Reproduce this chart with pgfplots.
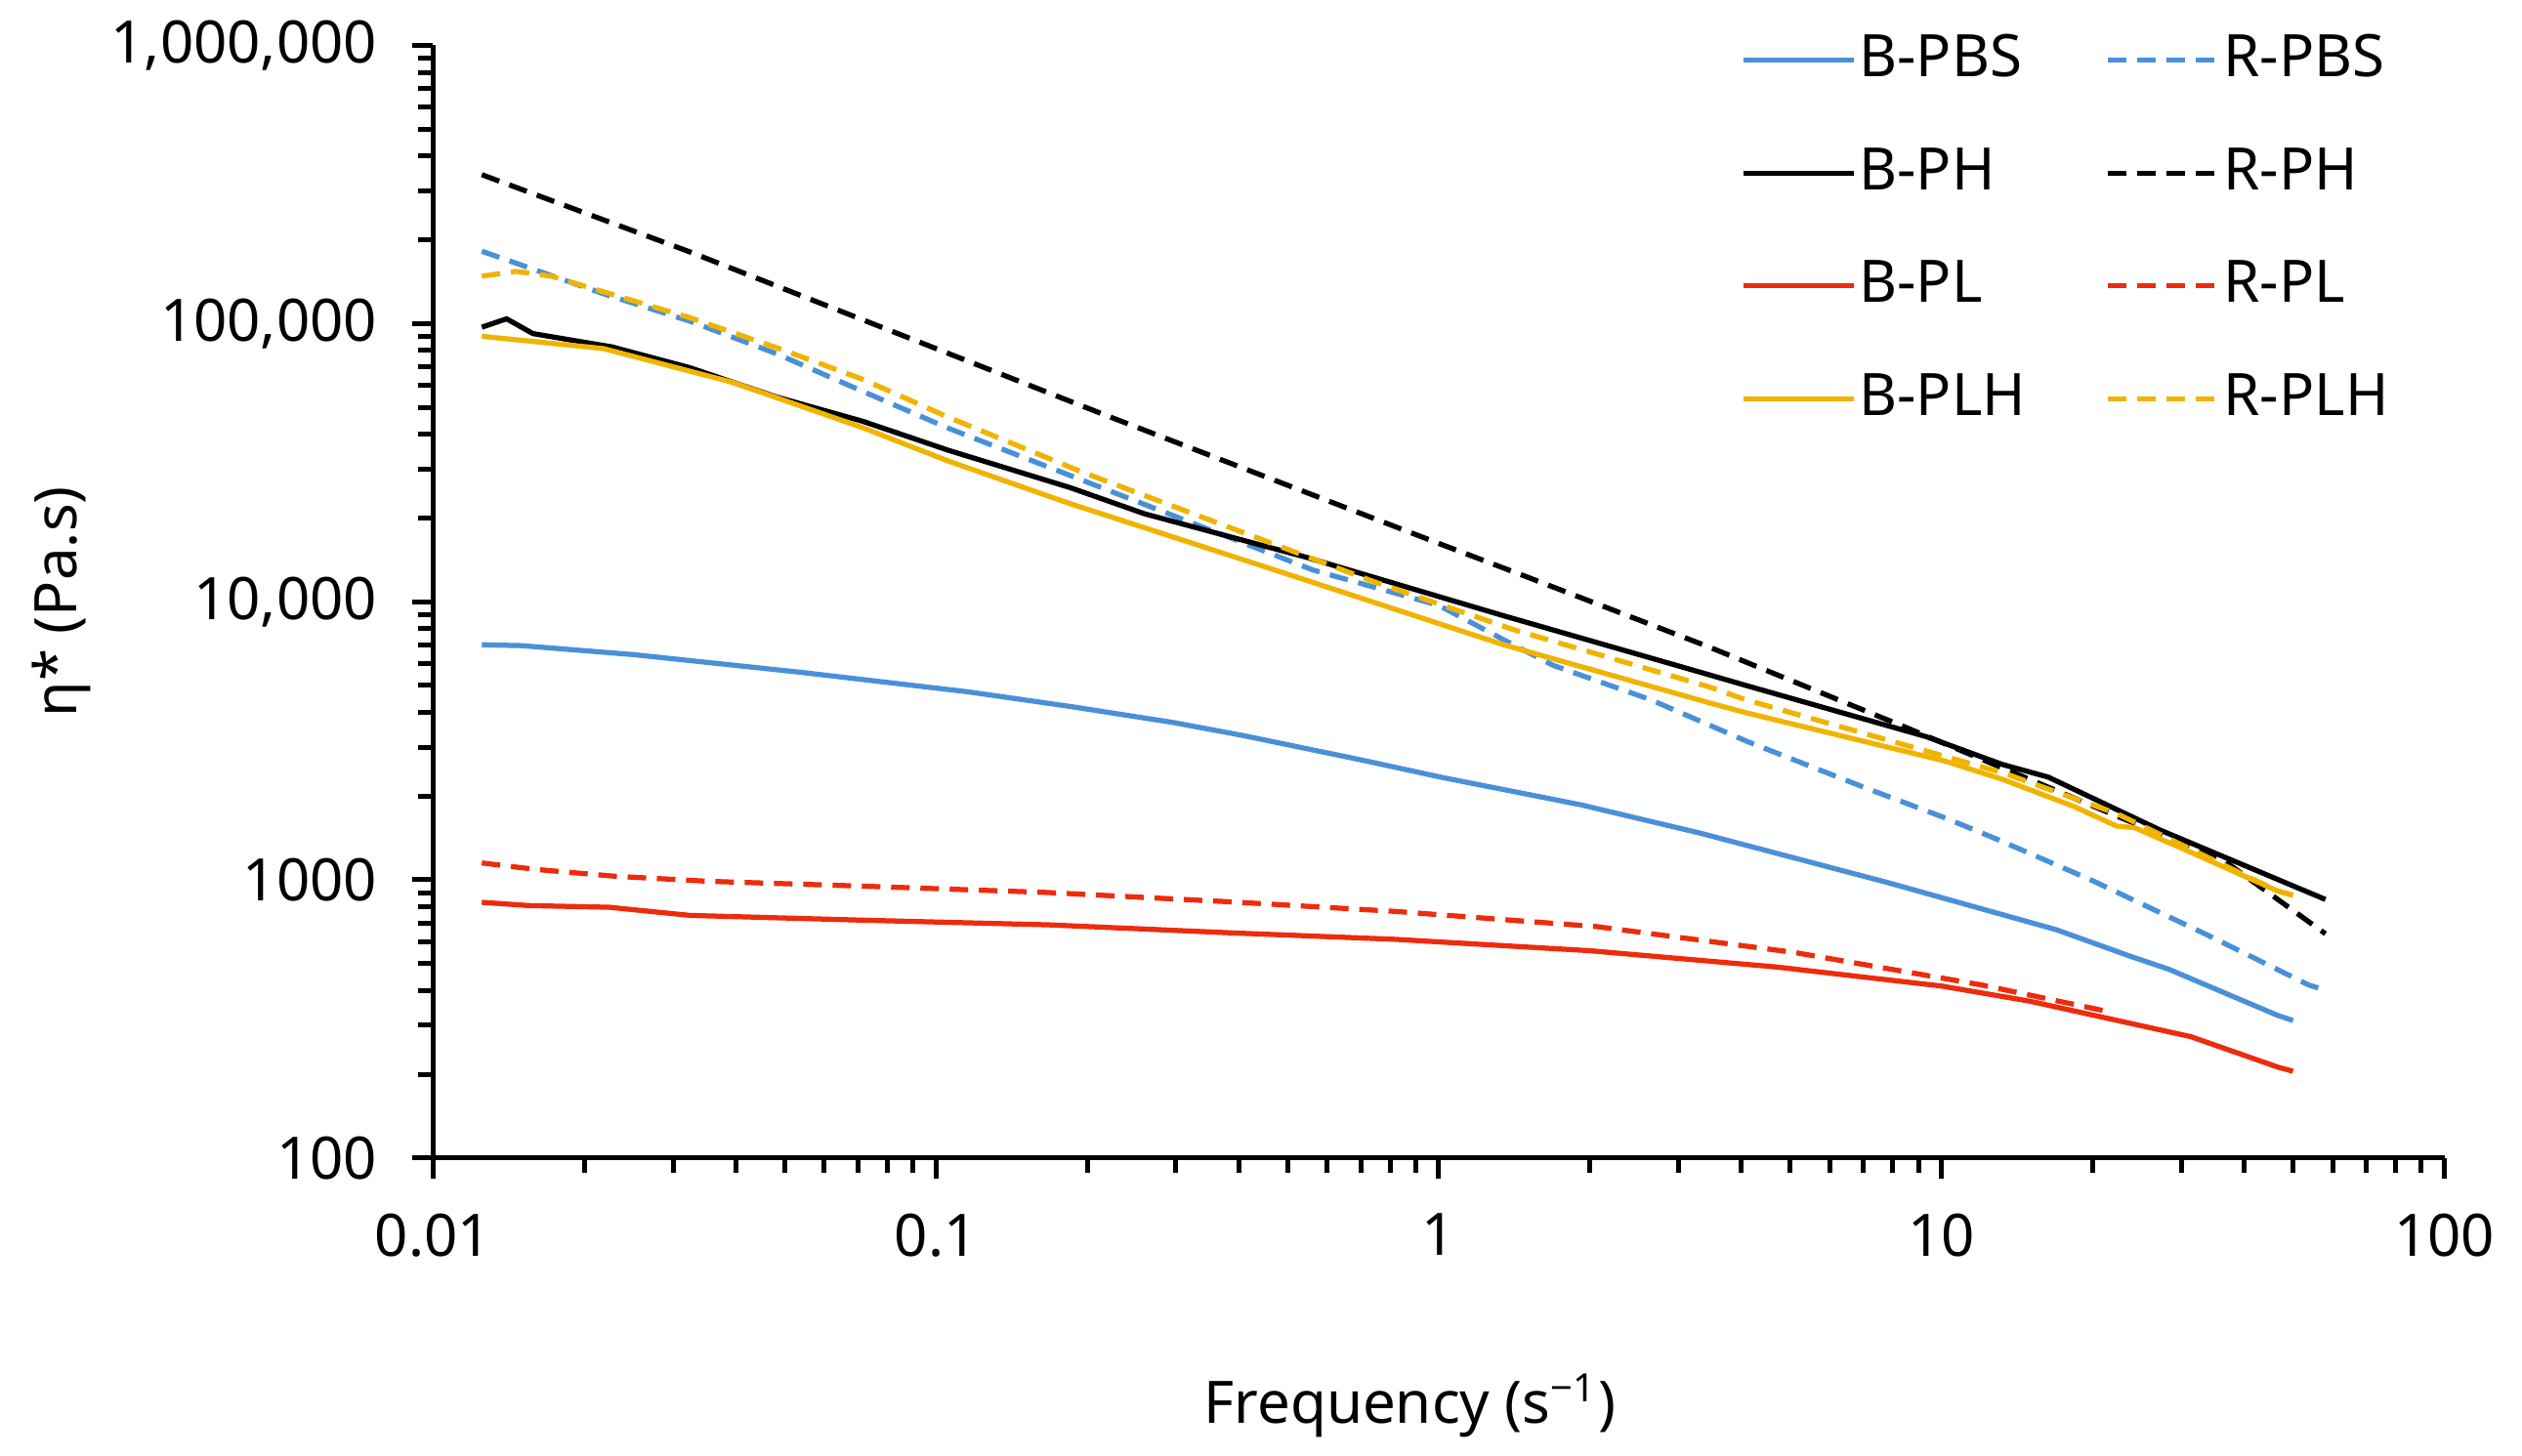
\documentclass[border=0pt]{standalone}
\usepackage{fontspec}
\setmainfont{Noto Sans}
\usepackage{pgfplots}
\pgfplotsset{compat=1.18}
\definecolor{cblue}{HTML}{4A90D9}
\definecolor{cred}{HTML}{EE2B0C}
\definecolor{cyel}{HTML}{F0B400}

\pgfplotstableread{
x y
0.0125 7000
0.015 6950
0.0251 6450
0.054 5570
0.116 4740
0.185 4200
0.296 3680
0.409 3300
0.70 2700
1.02 2330
1.92 1860
3.32 1470
7.82 977
16.9 662
23.6 533
28.3 477
46.7 325
50 312
}\BPBS

\pgfplotstableread{
x y
0.0125 182000
0.0218 128000
0.0324 102000
0.0481 78000
0.0716 57000
0.106 42000
0.217 25400
0.562 13000
1.0 9700
1.346 7300
1.69 5900
2.64 4440
4.13 3130
7.06 2140
10.25 1660
13 1390
19.8 1000
34 630
53.7 419
57 405
}\RPBS

\pgfplotstableread{
x y
0.0125 97000
0.0140 104000
0.0158 92000
0.0227 82400
0.0324 69400
0.0481 54500
0.0716 44500
0.106 35000
0.185 25700
0.26 20700
0.541 14500
1.346 8900
3.32 5570
4.08 5000
9.33 3270
13.2 2600
16.3 2340
27.2 1510
58 850
}\BPH

\pgfplotstableread{
x y
0.0125 343000
0.0324 181000
0.217 46900
1.0 16200
1.476 12400
3.43 6900
8.63 3490
22.4 1690
36 1190
58 640
}\RPH

\pgfplotstableread{
x y
0.0125 830
0.0155 808
0.0224 797
0.0324 745
0.0716 716
0.1675 689
0.392 644
0.82 611
2.0 556
4.69 486
10 415
15 366
31.3 273
46.7 212
50 205
}\BPL

\pgfplotstableread{
x y
0.0125 1150
0.016 1090
0.023 1030
0.0352 988
0.0716 949
0.1675 900
0.392 832
0.82 770
2.06 679
5.1 548
12 419
21.1 338
}\RPL

\pgfplotstableread{
x y
0.0125 90000
0.0218 81300
0.0395 61400
0.0716 42200
0.106 32000
0.185 22500
0.217 20500
0.541 12000
1.346 7000
3.45 4330
4.08 3990
10.1 2680
13.2 2300
18.4 1830
22.3 1560
24.2 1540
30 1300
46.6 912
50 880
}\BPLH

\pgfplotstableread{
x y
0.0125 148000
0.0146 154000
0.0172 148000
0.0324 105000
0.0481 82000
0.0716 63000
0.106 46000
0.193 29500
0.743 11800
1.41 7930
3.45 4940
4.08 4440
13.3 2420
22.3 1730
46.6 912
50 880
}\RPLH

\begin{document}
\fontsize{12pt}{14pt}\selectfont
\begin{tikzpicture}
\begin{axis}[
  scale only axis, width=411.9pt, height=227.9pt,
  xmode=log, ymode=log,
  xmin=0.01, xmax=100, ymin=100, ymax=1000000,
  axis x line=bottom, axis y line=left,
  axis line style={line width=1pt, -},
  xtick={0.01,0.1,1,10,100}, xticklabels={0.01,0.1,1,10,100},
  ytick={100,1000,10000,100000,1000000},
  yticklabels={100,1000,{10,000},{100,000},{1,000,000}},
  minor xtick={0.02,0.03,0.04,0.05,0.06,0.07,0.08,0.09,0.2,0.3,0.4,0.5,0.6,0.7,0.8,0.9,2,3,4,5,6,7,8,9,20,30,40,50,60,70,80,90},
  minor ytick={200,300,400,500,600,700,800,900,2000,3000,4000,5000,6000,7000,8000,9000,20000,30000,40000,50000,60000,70000,80000,90000,200000,300000,400000,500000,600000,700000,800000,900000},
  tick align=outside, major tick length=4.2pt, minor tick length=3pt,
  every tick/.style={line width=1pt, black},
  every minor tick/.style={line width=1pt, black},
  xticklabel style={inner sep=0pt, anchor=north, yshift=-7pt, font=\fontsize{12pt}{14pt}\selectfont},
  yticklabel style={inner sep=0pt, anchor=east, xshift=-7.1pt, font=\fontsize{12pt}{14pt}\selectfont},
  xlabel={Frequency (s\textsuperscript{−1})},
  ylabel={η* (Pa.s)},
  every axis x label/.style={at={(axis description cs:0.4856,-0.2229)}, anchor=center, font=\fontsize{12pt}{14pt}\selectfont},
  every axis y label/.style={at={(axis description cs:-0.1848,0.5)}, rotate=90, anchor=center, font=\fontsize{12pt}{14pt}\selectfont},
  legend columns=2,
  legend cell align=left,
  legend style={at={(axis description cs:0.6497,1.0107)}, anchor=north west, draw=none, fill=none,
    inner sep=0pt, row sep=12.74pt, column sep=0.6pt,
    nodes={inner sep=0pt},
    font=\fontsize{12pt}{14pt}\selectfont,
    /tikz/column 2/.append style={column sep=16.3pt}},
  legend image code/.code={\draw[#1] (0pt,0pt) -- (22.6pt,0pt);},
  every axis plot/.append style={line width=1.05pt, line join=round, no markers},
]
\addplot[cblue] table {\BPBS}; \addlegendentry{B-PBS}
\addplot[cblue, dash pattern=on 3.8pt off 2.2pt] table {\RPBS}; \addlegendentry{R-PBS}
\addplot[black] table {\BPH}; \addlegendentry{B-PH}
\addplot[black, dash pattern=on 3.8pt off 2.2pt] table {\RPH}; \addlegendentry{R-PH}
\addplot[cred] table {\BPL}; \addlegendentry{B-PL}
\addplot[cred, dash pattern=on 3.8pt off 2.2pt] table {\RPL}; \addlegendentry{R-PL}
\addplot[cyel] table {\BPLH}; \addlegendentry{B-PLH}
\addplot[cyel, dash pattern=on 3.8pt off 2.2pt] table {\RPLH}; \addlegendentry{R-PLH}
\end{axis}
\pgfresetboundingbox
\path[use as bounding box] ([shift={(-88.7pt,-61pt)}]current axis.south west) rectangle ([shift={(15.9pt,9.3pt)}]current axis.north east);
\end{tikzpicture}
\end{document}
